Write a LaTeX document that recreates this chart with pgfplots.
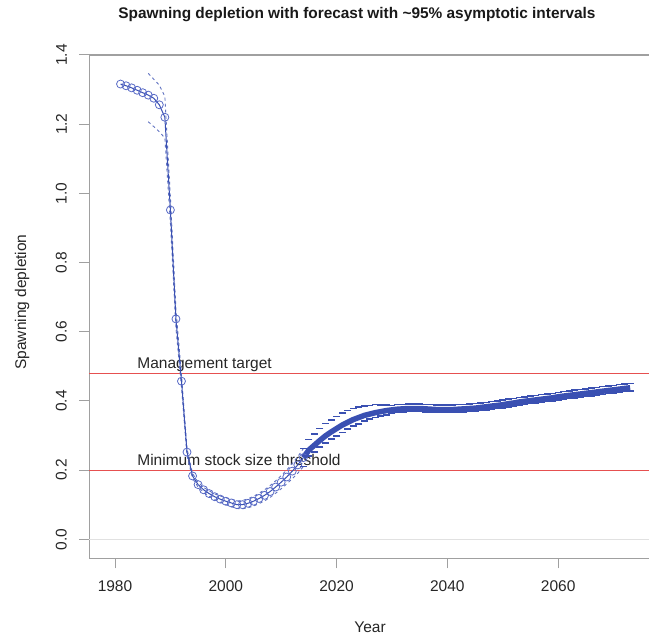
\documentclass[border=0pt]{standalone}
\usepackage{fontspec}
\setmainfont{Liberation Sans}
\usepackage{pgfplots}
\usepackage{pgfplotstable}
\pgfplotsset{compat=1.18}
\definecolor{ssblue}{RGB}{58,80,178}
\definecolor{circblue}{RGB}{88,106,198}
\definecolor{axgray}{RGB}{160,160,160}
\definecolor{refred}{RGB}{230,80,80}
\definecolor{zerogray}{RGB}{225,225,225}

\pgfplotstableread{
year mean
1981 1.316
1982 1.311
1983 1.305
1984 1.298
1985 1.291
1986 1.284
1987 1.275
1988 1.256
1989 1.220
1990 0.952
1991 0.637
1992 0.457
1993 0.252
1994 0.183
1995 0.158
1996 0.143
1997 0.132
1998 0.123
1999 0.116
2000 0.110
2001 0.105
2002 0.100
2003 0.100
2004 0.104
2005 0.110
2006 0.118
2007 0.127
2008 0.138
2009 0.151
2010 0.165
2011 0.180
2012 0.197
2013 0.215
2014 0.236
}\hist

\pgfplotstableread{
year lo hi
1986 1.207 1.347
1987 1.193 1.330
1988 1.178 1.313
1989 1.160 1.280
1990 0.915 0.990
1991 0.610 0.665
1992 0.440 0.475
1993 0.242 0.262
1994 0.176 0.190
1995 0.151 0.165
1996 0.136 0.150
1997 0.124 0.140
1998 0.115 0.131
1999 0.107 0.125
2000 0.100 0.120
2001 0.094 0.116
2002 0.089 0.111
2003 0.088 0.112
2004 0.091 0.117
2005 0.096 0.124
2006 0.103 0.133
2007 0.111 0.143
2008 0.121 0.155
2009 0.133 0.169
2010 0.146 0.184
2011 0.160 0.200
2012 0.175 0.219
2013 0.191 0.239
2014 0.210 0.262
}\histci

\pgfplotstableread{
year mean lo hi
2014 0.236 0.210 0.262
2015 0.258 0.240 0.288
2016 0.272 0.253 0.304
2017 0.286 0.266 0.320
2018 0.299 0.278 0.334
2019 0.310 0.289 0.345
2020 0.320 0.299 0.355
2021 0.330 0.309 0.365
2022 0.338 0.318 0.372
2023 0.346 0.327 0.378
2024 0.352 0.334 0.382
2025 0.358 0.342 0.385
2026 0.362 0.347 0.387
2027 0.366 0.352 0.389
2028 0.369 0.356 0.388
2029 0.372 0.360 0.388
2030 0.374 0.365 0.387
2031 0.376 0.367 0.389
2032 0.377 0.368 0.390
2033 0.378 0.369 0.391
2034 0.378 0.369 0.391
2035 0.378 0.369 0.391
2036 0.377 0.368 0.390
2037 0.376 0.367 0.389
2038 0.375 0.366 0.388
2039 0.375 0.366 0.388
2040 0.375 0.366 0.388
2041 0.375 0.366 0.388
2042 0.376 0.367 0.389
2043 0.377 0.368 0.390
2044 0.378 0.369 0.391
2045 0.379 0.370 0.392
2046 0.381 0.372 0.394
2047 0.383 0.374 0.396
2048 0.385 0.376 0.398
2049 0.387 0.378 0.400
2050 0.389 0.380 0.402
2051 0.392 0.383 0.405
2052 0.394 0.385 0.407
2053 0.397 0.388 0.410
2054 0.399 0.390 0.412
2055 0.401 0.392 0.414
2056 0.403 0.394 0.416
2057 0.405 0.396 0.418
2058 0.407 0.398 0.420
2059 0.409 0.400 0.422
2060 0.412 0.403 0.425
2061 0.414 0.405 0.427
2062 0.416 0.407 0.429
2063 0.418 0.409 0.431
2064 0.420 0.411 0.433
2065 0.422 0.413 0.435
2066 0.424 0.415 0.437
2067 0.426 0.417 0.439
2068 0.428 0.419 0.441
2069 0.430 0.421 0.443
2070 0.432 0.423 0.445
2071 0.434 0.425 0.447
2072 0.436 0.427 0.449
2073 0.438 0.428 0.451
}\fore

\begin{document}
\begin{tikzpicture}
\path[use as bounding box] (-89.3pt,-80.7pt) rectangle (559.7pt,558.3pt);
\begin{axis}[
  at={(0,0)}, anchor=south west,
  width=559.7pt, height=503.3pt, scale only axis,
  xmin=1975.36, xmax=2076.4, ymin=-0.055, ymax=1.4,
  axis x line*=bottom, axis y line*=left,
  axis line style={draw=axgray, line width=1.3pt, -},
  tick style={draw=axgray, line width=1pt},
  tick align=outside, major tick length=10pt,
  xtick={1980,2000,2020,2040,2060},
  xticklabels={1980,2000,2020,2040,2060},
  ytick={0,0.2,0.4,0.6,0.8,1.0,1.2,1.4},
  yticklabels={0.0,0.2,0.4,0.6,0.8,1.0,1.2,1.4},
  yticklabel style={rotate=90, anchor=south},
  xticklabel shift=9pt,
  yticklabel shift=9pt,
  ticklabel style={font=\fontsize{15.5}{18}\selectfont, text=black!85},
  clip=false,
]
\addplot[draw=zerogray, line width=1.5pt, no marks] coordinates {(1975.36,0) (2076.4,0)};
\addplot[draw=refred, line width=1pt, no marks] coordinates {(1975.36,0.2) (2076.4,0.2)};
\addplot[draw=refred, line width=1pt, no marks] coordinates {(1975.36,0.4795) (2076.4,0.4795)};
\node[anchor=base west, font=\fontsize{15.5}{18}\selectfont, text=black!85, inner sep=0pt] at (axis cs:1984,0.494) {Management target};
\node[anchor=base west, font=\fontsize{15.5}{18}\selectfont, text=black!85, inner sep=0pt] at (axis cs:1984,0.212) {Minimum stock size threshold};
% historical CI
\addplot[draw=ssblue!80, line width=0.9pt, dash pattern=on 3pt off 3pt, no marks] table[x=year,y=lo]{\histci};
\addplot[draw=ssblue!80, line width=0.9pt, dash pattern=on 3pt off 3pt, no marks] table[x=year,y=hi]{\histci};
% historical mean
\addplot[draw=ssblue, line width=1pt, mark=o, mark size=4pt, mark options={draw=circblue, line width=0.8pt, solid}] table[x=year,y=mean]{\hist};
% forecast
\addplot[draw=ssblue, only marks, mark=-, mark size=3.5pt, mark options={draw=ssblue, line width=1.6pt}] table[x=year,y=lo]{\fore};
\addplot[draw=ssblue, line width=5.5pt, no marks] table[x=year,y=mean]{\fore};
\addplot[draw=ssblue, only marks, mark=-, mark size=3.5pt, mark options={draw=ssblue, line width=1.5pt}] table[x=year,y=hi]{\fore};
\draw[draw=axgray, line width=1.2pt] (rel axis cs:0,0.99995) -- (rel axis cs:1,0.99995);
\end{axis}
\node[font=\fontsize{15.4}{18}\selectfont\bfseries, text=black!90] at (267.7pt,543.3pt) {Spawning depletion with forecast with \textasciitilde95\% asymptotic intervals};
\node[font=\fontsize{15.5}{18}\selectfont, text=black!85] at (280.7pt,-68.7pt) {Year};
\node[font=\fontsize{15.5}{18}\selectfont, text=black!85, rotate=90] at (-67.3pt,256.3pt) {Spawning depletion};
\end{tikzpicture}
\end{document}
